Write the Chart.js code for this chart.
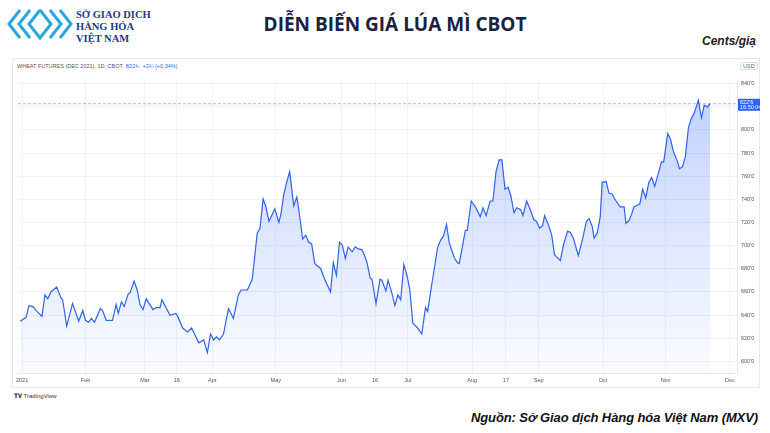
<!DOCTYPE html>
<html>
<head>
<meta charset="utf-8">
<script src="https://cdn.jsdelivr.net/npm/chart.js@4"></script>
<style>
  body { margin:0; width:770px; height:433px; background:#fff; font-family:"Liberation Sans", Arial, sans-serif; position:relative; overflow:hidden; }
  #title { position:absolute; left:10px; width:770px; top:11px; text-align:center; font-weight:bold; font-size:19px; color:#1a2140; font-family:"Open Sans","Liberation Sans",sans-serif; }
  #unit { position:absolute; right:14px; top:34px; font-style:italic; font-weight:bold; font-size:12px; color:#222; }
  #logoTxt { position:absolute; left:76px; top:9px; font-size:10.5px; line-height:12px; font-weight:bold; color:#1c3b8c; font-family:"Liberation Serif",serif; }
  #frame { position:absolute; left:12px; top:58px; width:748px; height:330px; border:1px solid #e6e8ee; box-sizing:border-box; }
  #hdr { position:absolute; left:17px; top:63px; font-size:5.5px; color:#555; }
  #hdr b { color:#2962ff; font-weight:normal; }
  #usd { position:absolute; left:740px; top:62px; font-size:5.5px; color:#666; border:1px solid #ddd; border-radius:2px; padding:0 2px; }
  #tv { position:absolute; left:14px; top:393px; font-size:6px; color:#333; }
  #src { position:absolute; right:12px; top:410px; font-style:italic; font-weight:bold; font-size:13px; color:#111; letter-spacing:-0.1px; }
  #wrap { position:absolute; left:12px; top:74px; width:748px; height:316px; }
</style>
</head>
<body>
<svg style="position:absolute;left:6px;top:6px" width="68" height="36" viewBox="0 0 68 36">
  <g fill="none" stroke="#29a8e0" stroke-width="3">
    <polyline points="14,4 3,18 14,32"/>
    <polyline points="24,4 13,18 24,32"/>
    <polyline points="34,4 23,18 34,32 45,18 34,4"/>
    <polyline points="44,4 55,18 44,32"/>
    <polyline points="54,4 65,18 54,32"/>
  </g>
</svg>
<div id="logoTxt">SỞ GIAO DỊCH<br>HÀNG HÓA<br>VIỆT NAM</div>
<div id="title">DIỄN BIẾN GIÁ LÚA MÌ CBOT</div>
<div id="unit">Cents/giạ</div>
<div id="frame"></div>
<div id="hdr">WHEAT FUTURES (DEC 2021), 1D, CBOT &nbsp;<b>822¾ &nbsp;+2¼ (+0.34%)</b></div>
<div id="usd">USD</div>
<div id="wrap"><canvas id="c"></canvas></div>
<div id="tv"><b>𝐓𝐕</b> TradingView</div>
<div id="src">Nguồn: Sở Giao dịch Hàng hóa Việt Nam (MXV)</div>
<script>
// trading-day index since Jan 4 2021, price in cents/bushel
const days = [-0.6,1.3,2.2,3.5,4.8,6.4,7.4,8.3,9.3,11.2,12.5,13.1,14.4,16.3,18.3,19.6,20.5,21.5,22.4,23.4,25.3,26.0,27.2,29.2,30.4,31.1,32.1,33.0,34.3,34.9,36.2,37.2,38.1,39.1,40.1,41.3,42.3,43.3,44.6,45.2,46.5,47.8,49.7,50.3,51.9,53.5,54.8,57.1,58.7,59.9,60.9,61.9,62.8,63.8,65.1,66.7,68.3,
  69.9,70.8,72.8,74.4,76.0,76.9,77.9,78.8,79.8,81.7,83.0,83.7,84.6,85.6,86.5,87.8,88.8,89.4,90.7,91.7,92.6,93.6,94.6,96.5,97.8,99.7,100.6,101.6,102.6,103.5,104.5,105.4,106.7,107.7,108.7,109.9,110.6,111.5,112.5,113.1,114.4,115.7,116.3,117.6,118.3,119.6,120.5,121.5,122.4,123.4,124.4,125.3,126.3,127.9,129.2,130.4,131.1,132.4,134.3,135.3,136.2,137.2,138.1,139.7,140.7,141.3,143.3,143.9,145.2,146.5,148.1,148.7,
  149.0,150.0,151.3,152.2,153.2,154.2,155.1,156.1,157.1,158.0,159.0,159.9,161.2,161.9,163.1,164.4,165.4,166.3,167.3,168.3,168.9,170.2,171.2,172.1,174.0,175.0,176.3,177.2,178.2,179.8,181.1,182.4,183.3,184.3,184.9,185.9,186.9,187.5,188.8,189.7,190.7,192.0,193.3,194.6,195.2,196.2,197.1,197.8,199.0,199.7,200.6,201.6,202.6,203.5,204.5,205.4,206.7,207.4,208.7,209.6,210.6,211.9,212.5,213.5,214.4,215.4,216.3,217.3,218.6,219.6,220.5,221.5,222.4];
const prices = [634.7,638.1,648.2,647.4,643.2,638.9,657.5,654.1,660.0,664.3,655.0,653.3,630.5,649.9,634.7,644.0,635.5,633.8,637.2,633.8,645.7,644.0,635.5,635.5,649.1,641.5,651.6,647.4,658.4,659.2,669.4,661.7,649.1,644.8,654.1,649.1,644.8,646.5,646.5,653.3,646.5,639.8,641.5,638.9,628.8,625.4,628.8,616.1,618.6,607.7,623.7,618.6,621.2,618.6,623.7,645.7,637.2,
  657.5,661.7,661.7,671.0,710.8,715.0,740.3,733.6,720.9,731.9,720.0,727.7,744.6,755.5,764.0,734.4,742.0,731.9,705.7,709.1,703.1,701.5,684.5,680.3,671.0,660.0,685.4,674.4,703.1,700.6,688.8,698.9,694.7,698.9,697.2,696.4,692.2,685.4,671.9,671.0,649.9,671.0,670.2,660.9,670.2,658.4,648.2,657.5,653.3,683.7,674.4,662.6,633.0,628.8,623.7,646.5,643.2,666.0,698.1,704.8,708.2,718.3,702.3,689.6,685.4,684.5,713.3,713.3,738.6,733.6,725.1,730.2,
  732.7,726.0,738.6,738.6,764.0,774.1,774.1,748.8,750.5,742.9,728.5,732.7,731.0,726.0,738.6,730.2,722.6,720.9,715.0,717.5,726.0,717.5,709.1,692.2,687.1,700.6,712.4,711.6,706.5,691.3,704.8,720.9,723.4,716.7,706.5,710.8,725.1,754.7,755.5,745.4,744.6,738.6,733.6,733.6,719.2,721.7,727.7,733.6,735.2,736.1,748.8,741.2,754.7,758.9,751.3,759.8,772.4,772.4,796.9,791.9,780.9,772.4,766.5,768.2,776.7,802.0,809.6,814.7,825.7,810.5,821.4,819.8,822.6];
const tickPos = [0,20.5,39.7,50,61.5,82,103.2,114.1,124.7,145.5,156.4,167,187.8,208,228.8];
const tickLabels = ['2021','Feb','Mar','16','Apr','May','Jun','16','Jul','Aug','17','Sep','Oct','Nov','Dec'];
const yTicks = [600,620,640,660,680,700,720,740,760,780,800,820,840];
const lastLabel = "822'6";
const lastTime = '16:50:04';

const pts = days.map((d, i) => ({ x: d, y: prices[i] }));

const lastPlugin = {
  id: 'last',
  afterDraw(chart) {
    const { ctx, chartArea, scales } = chart;
    const y = scales.y.getPixelForValue(prices[prices.length - 1]);
    ctx.save();
    ctx.setLineDash([3, 2]);
    ctx.strokeStyle = 'rgba(41,98,255,0.45)';
    ctx.lineWidth = 1;
    ctx.beginPath(); ctx.moveTo(chartArea.left, y); ctx.lineTo(chartArea.right, y); ctx.stroke();
    ctx.setLineDash([]);
    ctx.fillStyle = '#2962ff';
    ctx.fillRect(chartArea.right + 1, y - 5, 22, 12);
    ctx.fillStyle = '#fff';
    ctx.font = '5.5px "Liberation Sans"';
    ctx.textAlign = 'left';
    ctx.fillText(lastLabel, chartArea.right + 3, y);
    ctx.fillText(lastTime, chartArea.right + 3, y + 5);
    ctx.restore();
  }
};

new Chart(document.getElementById('c'), {
  type: 'line',
  data: {
    datasets: [{
      data: pts,
      borderColor: '#2f62e6',
      borderWidth: 1.2,
      pointRadius: 0,
      tension: 0,
      fill: 'start',
      backgroundColor: (c) => {
        const a = c.chart.chartArea;
        if (!a) return 'rgba(41,98,255,0.1)';
        const g = c.chart.ctx.createLinearGradient(0, a.top, 0, a.bottom);
        g.addColorStop(0, 'rgba(41,98,255,0.30)');
        g.addColorStop(1, 'rgba(41,98,255,0.02)');
        return g;
      }
    }]
  },
  options: {
    responsive: true,
    maintainAspectRatio: false,
    animation: false,
    layout: { padding: { top: 1 } },
    plugins: { legend: { display: false }, tooltip: { enabled: false } },
    scales: {
      x: {
        type: 'linear', min: -1.3, max: 231.1,
        afterBuildTicks: (s) => { s.ticks = tickPos.map(v => ({ value: v })); },
        afterFit: (s) => { s.height = 17; },
        ticks: { autoSkip: false, maxRotation: 0, color: '#555', font: { size: 5.5 }, padding: 4,
          callback: (v, i) => tickLabels[i] },
        grid: { color: '#f1f2f5', drawTicks: false },
        border: { color: '#e6e8ee' }
      },
      y: {
        position: 'right', min: 590, max: 842,
        afterBuildTicks: (s) => { s.ticks = yTicks.map(v => ({ value: v })); },
        afterFit: (s) => { s.width = 23; },
        ticks: { color: '#555', font: { size: 5.5 }, padding: 4, callback: (v) => v + "'0" },
        grid: { color: '#f1f2f5', drawTicks: false },
        border: { color: '#e6e8ee' }
      }
    }
  },
  plugins: [lastPlugin]
});
</script>
</body>
</html>
